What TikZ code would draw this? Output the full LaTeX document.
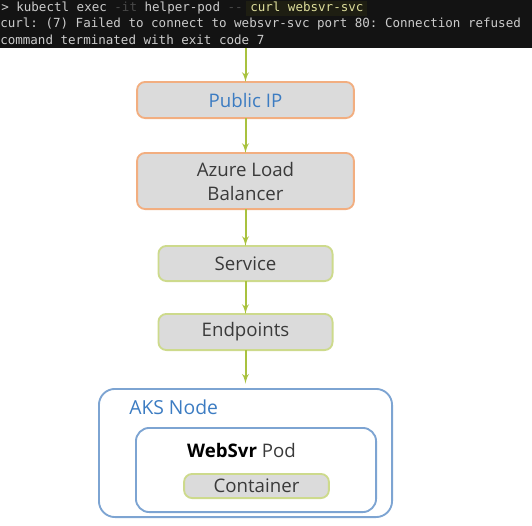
\documentclass[tikz,border=0pt]{standalone}
\usepackage{fontspec}
\setmainfont{Open Sans}
\setmonofont{DejaVu Sans Mono}
\usetikzlibrary{shapes,arrows}
\usetikzlibrary{positioning}
\definecolor{termbg}{HTML}{131313}
\definecolor{termhl}{HTML}{1E1E12}
\definecolor{termtext}{HTML}{CCCCCC}
\definecolor{termdim}{HTML}{4A4A4A}
\definecolor{termyellow}{HTML}{DCDC9A}
\definecolor{boxgray}{HTML}{DBDBDB}
\definecolor{boxorange}{HTML}{F2AE80}
\definecolor{boxgreen}{HTML}{CDDA8C}
\definecolor{boxblue}{HTML}{7DA4D2}
\definecolor{textblue}{HTML}{3C7CC2}
\definecolor{textgray}{HTML}{3A3A3A}
\definecolor{arrowgreen}{HTML}{A9C23F}
\tikzstyle{block} = [draw=boxorange, fill=boxgray, rounded corners=6pt, line width=1.4pt, outer sep=0pt, minimum width=162.6pt, minimum height=27.1pt, font=\fontsize{14}{18}\selectfont, text=textgray, align=center]
\tikzstyle{smallblock} = [block, draw=boxgreen, minimum width=130.6pt]
\tikzstyle{frame} = [draw=boxblue, rounded corners=12pt, line width=1.4pt, outer sep=0pt]
\tikzstyle{term} = [anchor=west, inner sep=0pt, font=\ttfamily\fontsize{9.4}{11}\selectfont, text=termtext]
\tikzstyle{io} = [coordinate]
\tikzstyle{flow} = [->, draw=arrowgreen, line width=1.5pt]

\begin{document}
\begin{tikzpicture}[x=0.75pt, y=-0.75pt, >=latex']
\useasboundingbox (0,0) rectangle (532,525);
% Terminal
\fill [termbg] (0,0) rectangle (532,48);
\fill [termhl] (246,1) rectangle (367,16);
\node [term] (cmd) at (1,8) {> kubectl exec \textcolor{termdim}{-it} helper-pod \textcolor{termdim}{--} \textcolor{termyellow}{curl websvr-svc}};
\node [term] (err) at (0,24) {curl: (7) Failed to connect to websvr-svc port 80: Connection refused};
\node [term] (exit) at (0,40) {command terminated with exit code 7};
\node [io] (top) at (245.5,48) {};

% Blocks
\node [block, text=textblue] (pip) at (245.5,100) {Public IP};
\node [block, minimum height=42.1pt, below=26.15pt of pip] (alb) {Azure Load\\Balancer};
\node [smallblock, minimum height=26.35pt, below=27.65pt of alb] (svc) {Service};
\node [smallblock, below=24.65pt of svc] (ep) {Endpoints};

% AKS node and pod
\node [frame, minimum width=219.85pt, minimum height=96.1pt, below=29.15pt of ep] (aks) {};
\node [anchor=west, inner sep=0pt, font=\fontsize{14.5}{18}\selectfont, text=textblue] (aksl) at (129,407) {AKS Node};
\node [frame, rounded corners=10pt, minimum width=180.1pt, minimum height=63.1pt] (pod) at (256,470) {};
\node [font=\fontsize{14}{18}\selectfont, text=textgray] (podl) at (241.5,450) {\textcolor{black}{\bfseries WebSvr} Pod};
\node [smallblock, inner sep=2pt, minimum width=108.6pt, minimum height=18.1pt] (ctr) at (256.5,486) {Container};

% Flow
\draw [flow] (top) -- (pip);
\draw [flow] (pip) -- (alb);
\draw [flow] (alb) -- (svc);
\draw [flow] (svc) -- (ep);
\draw [flow, shorten >=4pt] (ep) -- (aks);
\end{tikzpicture}
\end{document}
